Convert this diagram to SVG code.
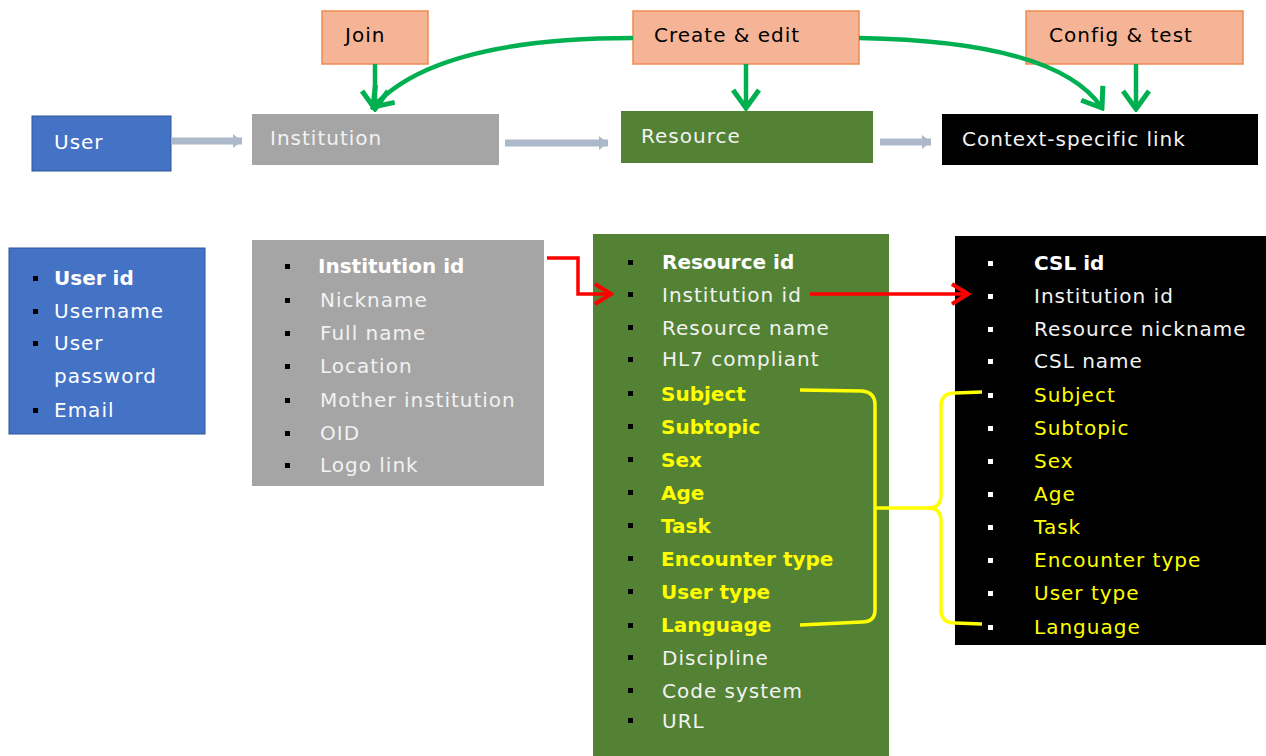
<svg xmlns="http://www.w3.org/2000/svg" width="1266" height="756" viewBox="0 0 1266 756">
<defs>
<style>
text{font-family:"DejaVu Sans","Liberation Sans",sans-serif;font-size:20px;letter-spacing:1px}
.b{font-weight:bold;letter-spacing:0}
.w{fill:#FFFFFF}
.lg{fill:#F2F2F2}
.k{fill:#000000}
.y{fill:#FFFF00}
.act{fill:#F6B496;stroke:#F08A50;stroke-width:1.5}
.gl{fill:none;stroke:#00B050;stroke-width:4.5}
.bl{fill:none;stroke:#ADB9CA;stroke-width:7}
.rl{fill:none;stroke:#FF0000;stroke-width:3.5}
.yl{fill:none;stroke:#FFFF00;stroke-width:3.5}
</style>
<marker id="gv" viewBox="0 0 24 30" refX="21" refY="15" markerWidth="24" markerHeight="30" markerUnits="userSpaceOnUse" orient="auto">
<path d="M3,2 L21,15 L3,28" fill="none" stroke="#00B050" stroke-width="5"/>
</marker>
<marker id="bv" viewBox="0 0 10 14" refX="9" refY="7" markerWidth="10" markerHeight="14" markerUnits="userSpaceOnUse" orient="auto">
<path d="M0,0 L9,7 L0,14 z" fill="#ADB9CA"/>
</marker>
<marker id="rv" viewBox="0 0 22 24" refX="19" refY="12" markerWidth="22" markerHeight="24" markerUnits="userSpaceOnUse" orient="auto">
<path d="M3,2 L19,12 L3,22" fill="none" stroke="#FF0000" stroke-width="4"/>
</marker>
</defs>
<rect width="1266" height="756" fill="#FFFFFF"/>

<g id="act-join"><rect class="act" x="322" y="11" width="106" height="53"/><text class="k" x="345" y="42">Join</text></g>
<g id="act-create"><rect class="act" x="633" y="11" width="226" height="53"/><text class="k" x="654" y="42">Create &amp; edit</text></g>
<g id="act-config"><rect class="act" x="1026" y="11" width="217" height="53"/><text class="k" x="1049" y="42">Config &amp; test</text></g>

<g id="node-user"><rect x="32" y="116" width="139" height="55" fill="#4472C4" stroke="#2F5597" stroke-width="1"/><text class="w" x="54" y="149">User</text></g>
<g id="node-institution"><rect x="252" y="114" width="247" height="51" fill="#A5A5A5"/><text class="lg" x="270" y="145">Institution</text></g>
<g id="node-resource"><rect x="621" y="111" width="252" height="52" fill="#548235"/><text class="lg" x="641" y="143">Resource</text></g>
<g id="node-csl"><rect x="942" y="114" width="316" height="51" fill="#000000"/><text class="lg" x="962" y="146">Context-specific link</text></g>

<g id="detail-user">
<rect x="9" y="248" width="196" height="186" fill="#4472C4" stroke="#2F5597" stroke-width="1"/>
<g fill="#000"><rect x="33" y="276" width="5" height="5"/><rect x="33" y="309" width="5" height="5"/><rect x="33" y="341" width="5" height="5"/><rect x="33" y="408" width="5" height="5"/></g>
<text class="w b" x="54" y="285">User id</text>
<text class="w" x="54" y="318">Username</text>
<text class="w" x="54" y="350">User</text>
<text class="w" x="54" y="383">password</text>
<text class="w" x="54" y="417">Email</text>
</g>

<g id="detail-institution">
<rect x="252" y="240" width="292" height="246" fill="#A5A5A5"/>
<g fill="#000"><rect x="285" y="264" width="5" height="5"/><rect x="285" y="298" width="5" height="5"/><rect x="285" y="331" width="5" height="5"/><rect x="285" y="364" width="5" height="5"/><rect x="285" y="398" width="5" height="5"/><rect x="285" y="431" width="5" height="5"/><rect x="285" y="463" width="5" height="5"/></g>
<text class="w b" x="318" y="273">Institution id</text>
<text class="lg" x="320" y="307">Nickname</text>
<text class="lg" x="320" y="340">Full name</text>
<text class="lg" x="320" y="373">Location</text>
<text class="lg" x="320" y="407">Mother institution</text>
<text class="lg" x="320" y="440">OID</text>
<text class="lg" x="320" y="472">Logo link</text>
</g>

<g id="detail-resource">
<rect x="593" y="234" width="296" height="522" fill="#548235"/>
<g fill="#000"><rect x="628" y="260" width="5" height="5"/><rect x="628" y="292" width="5" height="5"/><rect x="628" y="325" width="5" height="5"/><rect x="628" y="357" width="5" height="5"/><rect x="628" y="391" width="5" height="5"/><rect x="628" y="424" width="5" height="5"/><rect x="628" y="457" width="5" height="5"/><rect x="628" y="490" width="5" height="5"/><rect x="628" y="523" width="5" height="5"/><rect x="628" y="556" width="5" height="5"/><rect x="628" y="589" width="5" height="5"/><rect x="628" y="623" width="5" height="5"/><rect x="628" y="655" width="5" height="5"/><rect x="628" y="688" width="5" height="5"/><rect x="628" y="718" width="5" height="5"/></g>
<text class="w b" x="662" y="269">Resource id</text>
<text class="lg" x="662" y="302">Institution id</text>
<text class="lg" x="662" y="335">Resource name</text>
<text class="lg" x="662" y="366">HL7 compliant</text>
<text class="y b" x="661" y="401">Subject</text>
<text class="y b" x="661" y="434">Subtopic</text>
<text class="y b" x="661" y="467">Sex</text>
<text class="y b" x="661" y="500">Age</text>
<text class="y b" x="661" y="533">Task</text>
<text class="y b" x="661" y="566">Encounter type</text>
<text class="y b" x="661" y="599">User type</text>
<text class="y b" x="661" y="632">Language</text>
<text class="lg" x="662" y="665">Discipline</text>
<text class="lg" x="662" y="698">Code system</text>
<text class="lg" x="662" y="728">URL</text>
</g>

<g id="detail-csl">
<rect x="955" y="236" width="311" height="409" fill="#000000"/>
<g fill="#FFF"><rect x="988" y="261" width="5" height="5"/><rect x="988" y="294" width="5" height="5"/><rect x="988" y="327" width="5" height="5"/><rect x="988" y="359" width="5" height="5"/><rect x="988" y="393" width="5" height="5"/><rect x="988" y="426" width="5" height="5"/><rect x="988" y="459" width="5" height="5"/><rect x="988" y="492" width="5" height="5"/><rect x="988" y="525" width="5" height="5"/><rect x="988" y="558" width="5" height="5"/><rect x="988" y="591" width="5" height="5"/><rect x="988" y="625" width="5" height="5"/></g>
<text class="w b" x="1034" y="270">CSL id</text>
<text class="lg" x="1034" y="303">Institution id</text>
<text class="lg" x="1034" y="336">Resource nickname</text>
<text class="lg" x="1034" y="368">CSL name</text>
<text class="y" x="1034" y="402">Subject</text>
<text class="y" x="1034" y="435">Subtopic</text>
<text class="y" x="1034" y="468">Sex</text>
<text class="y" x="1034" y="501">Age</text>
<text class="y" x="1034" y="534">Task</text>
<text class="y" x="1034" y="567">Encounter type</text>
<text class="y" x="1034" y="600">User type</text>
<text class="y" x="1034" y="634">Language</text>
</g>

<g id="connectors">
<path class="bl" d="M171,141 H242" marker-end="url(#bv)"/>
<path class="bl" d="M505,143 H608" marker-end="url(#bv)"/>
<path class="bl" d="M880,142 H931" marker-end="url(#bv)"/>
<path class="gl" d="M375,64 V109" marker-end="url(#gv)"/>
<path class="gl" d="M746,64 V108" marker-end="url(#gv)"/>
<path class="gl" d="M1136,64 V109" marker-end="url(#gv)"/>
<path class="gl" d="M633,38 C520,38 420,55 373,107" marker-end="url(#gv)"/>
<path class="gl" d="M859,38 C980,40 1070,60 1102,108" marker-end="url(#gv)"/>
<path class="rl" d="M547,258 H578 V294 H611" marker-end="url(#rv)"/>
<path class="rl" d="M810,294 H968" marker-end="url(#rv)"/>
<path class="yl" d="M800,390 L862,391 Q875,392 875,405 V610 Q875,622 862,622 L800,625"/>
<path class="yl" d="M875,508 H928 Q941,508 941,495 V406 Q941,393 955,393 L982,392"/>
<path class="yl" d="M928,508 Q941,508 941,521 V610 Q941,623 955,623 L982,624"/>
</g>
</svg>
